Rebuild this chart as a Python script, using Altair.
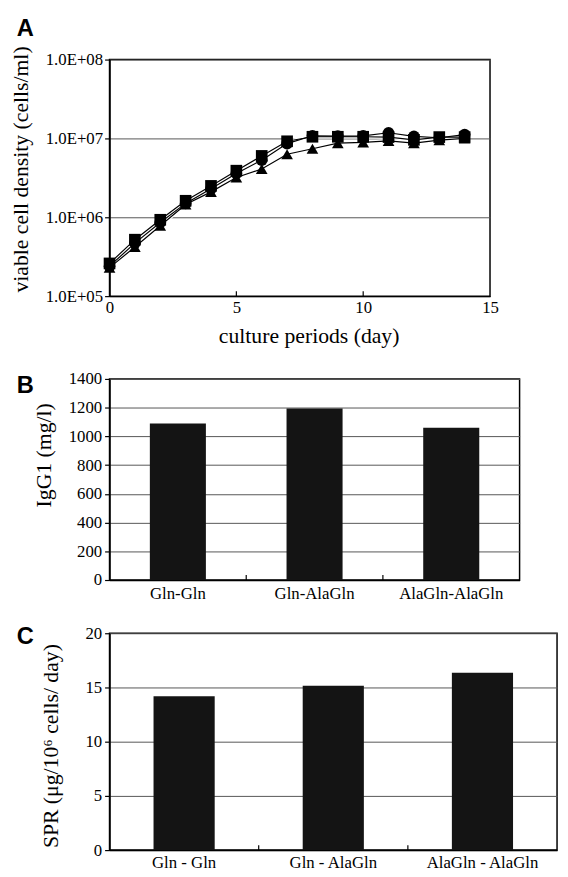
import altair as alt
import pandas as pd

# ---------------- data ----------------
days = list(range(15))
series_names = ["Gln-Gln", "Gln-AlaGln", "AlaGln-AlaGln"]
series_shapes = ["circle", "square", "triangle-up"]
circle_vals = [2.4e5, 4.7e5, 8.6e5, 1.5e6, 2.3e6, 3.6e6, 5.3e6, 8.6e6, 1.08e7, 1.07e7, 1.08e7, 1.18e7, 1.06e7, 1.02e7, 1.12e7]
square_vals = [2.6e5, 5.2e5, 9.3e5, 1.62e6, 2.5e6, 3.9e6, 6.0e6, 9.2e6, 1.05e7, 1.05e7, 1.05e7, 1.04e7, 9.6e6, 1.04e7, 1.04e7]
triangle_vals = [2.3e5, 4.2e5, 7.8e5, 1.45e6, 2.1e6, 3.2e6, 4.1e6, 6.3e6, 7.4e6, 8.7e6, 8.9e6, 9.3e6, 8.7e6, 9.5e6, 1.0e7]
x_ticks_A = [0, 5, 10, 15]
x_inner_ticks_A = [5, 10]
y_ticks_A = [1e5, 1e6, 1e7, 1e8]

cats_B = ["Gln-Gln", "Gln-AlaGln", "AlaGln-AlaGln"]
igg_vals = [1090, 1195, 1060]
y_ticks_B = [0, 200, 400, 600, 800, 1000, 1200, 1400]

cats_C = ["Gln - Gln", "Gln - AlaGln", "AlaGln - AlaGln"]
spr_vals = [14.2, 15.15, 16.35]
y_ticks_C = [0, 5, 10, 15, 20]

SERIF = "Liberation Serif"
SANS = "Liberation Sans"

rows = []
for name, vals in zip(series_names, [circle_vals, square_vals, triangle_vals]):
    for d, v in zip(days, vals):
        rows.append({"series": name, "day": d, "density": v})
dfA = pd.DataFrame(rows)

# ---------------- panel A ----------------
WA, HA = 386, 240
xA = alt.X("day:Q", scale=alt.Scale(domain=[0, 15], nice=False),
           axis=alt.Axis(values=x_ticks_A, title="culture periods (day)", titleX=202, titleY=47,
                         titleBaseline="alphabetic", titleFontSize=22, tickSize=0, labelPadding=4,
                         labelFontSize=17, grid=False, labelFlush=False))
yA = alt.Y("density:Q", scale=alt.Scale(type="log", domain=[1e5, 1e8], nice=False),
           axis=alt.Axis(values=y_ticks_A, labelExpr="'1.0E+0' + round(log(datum.value)/LN10)",
                         title="viable cell density (cells/ml)", titleX=-78, titleY=111,
                         titleBaseline="bottom", titleFontSize=22, tickSize=5, labelPadding=2,
                         labelFontSize=17, grid=True, gridColor="#555", gridWidth=1))
baseA = alt.Chart(dfA)
haloA = baseA.mark_line(color="white", strokeWidth=3.5).encode(x=xA, y=yA, detail="series:N")
lineA = baseA.mark_line(color="black", strokeWidth=1.2).encode(x=xA, y=yA, detail="series:N")
ptsA = baseA.mark_point(filled=True, size=140, color="black", opacity=1).encode(
    x=xA, y=yA,
    shape=alt.Shape("series:N", scale=alt.Scale(domain=series_names, range=series_shapes), legend=None))
ticksA = alt.Chart(pd.DataFrame({"day": x_inner_ticks_A})).mark_rule(color="black", strokeWidth=1.2).encode(
    x=xA, y=alt.value(HA), y2=alt.value(HA - 5))
letterA = alt.Chart(pd.DataFrame({"t": ["A"]})).mark_text(
    align="left", baseline="alphabetic", font=SANS, fontWeight="bold", fontSize=24, color="black").encode(
    x=alt.value(-94), y=alt.value(-24), text="t:N")
panelA = alt.layer(haloA, lineA, ptsA, ticksA, letterA).properties(width=WA, height=HA)


def bar_panel(cats, vals, ticks, title, title_x, title_y, W, H, letter, letter_y, label_pad):
    df = pd.DataFrame({"cat": cats, "val": vals})
    xs = alt.X("cat:N", sort=cats, scale=alt.Scale(domain=cats, paddingInner=0, paddingOuter=0),
               axis=alt.Axis(title=None, labelAngle=0, tickSize=0, labelPadding=label_pad,
                             labelFontSize=17, grid=False))
    ys = alt.Y("val:Q", scale=alt.Scale(domain=[ticks[0], ticks[-1]], nice=False),
               axis=alt.Axis(values=ticks, format="d", title=title, titleX=title_x, titleY=title_y,
                             titleBaseline="bottom", titleFontSize=22, tickSize=5, labelPadding=3,
                             labelFontSize=17, grid=True, gridColor="#555", gridWidth=1))
    bars = alt.Chart(df).mark_bar(color="#141414", width=alt.RelativeBandSize(0.41)).encode(x=xs, y=ys)
    tick_df = pd.DataFrame({"cat": cats[1:]})
    xt = alt.X("cat:N", sort=cats, bandPosition=0,
               scale=alt.Scale(domain=cats, paddingInner=0, paddingOuter=0),
               axis=alt.Axis(title=None, labelAngle=0, tickSize=0, labelPadding=label_pad,
                             labelFontSize=17, grid=False))
    tk = alt.Chart(tick_df).mark_rule(color="black", strokeWidth=1.2).encode(
        x=xt, y=alt.value(H), y2=alt.value(H - 5))
    let = alt.Chart(pd.DataFrame({"t": [letter]})).mark_text(
        align="left", baseline="alphabetic", font=SANS, fontWeight="bold", fontSize=24, color="black").encode(
        x=alt.value(-94), y=alt.value(letter_y), text="t:N")
    return alt.layer(bars, tk, let).properties(width=W, height=H)


panelB = bar_panel(cats_B, igg_vals, y_ticks_B, "IgG1 (mg/l)", -55, 77, 416, 204, "B", 14, 6)
panelC = bar_panel(cats_C, spr_vals, y_ticks_C, "SPR (μg/10⁶ cells/ day)", -48, 114, 454, 220, "C", 11, 5)


def spacer(h):
    return alt.Chart(pd.DataFrame({"v": [0]})).mark_point(opacity=0).encode(
        x=alt.value(0), y=alt.value(0)).properties(
        width=1, height=h, view=alt.ViewBackground(stroke="transparent"))


chart = alt.vconcat(panelA, spacer(84), panelB, spacer(54), panelC, spacing=0, bounds="flush").properties(
    autosize=alt.AutoSizeParams(type="none"),
    padding={"left": 103, "top": 46, "right": 457, "bottom": 826},
    background="white",
).configure_view(stroke="black", strokeWidth=1.5).configure_axis(
    labelFont=SERIF, titleFont=SERIF, labelColor="black", titleColor="black",
    titleFontWeight="normal", domainColor="black", domainWidth=1.5, tickColor="black", tickWidth=1.2,
)

chart.save("out.html", embed_options={"renderer": "svg", "actions": False})
